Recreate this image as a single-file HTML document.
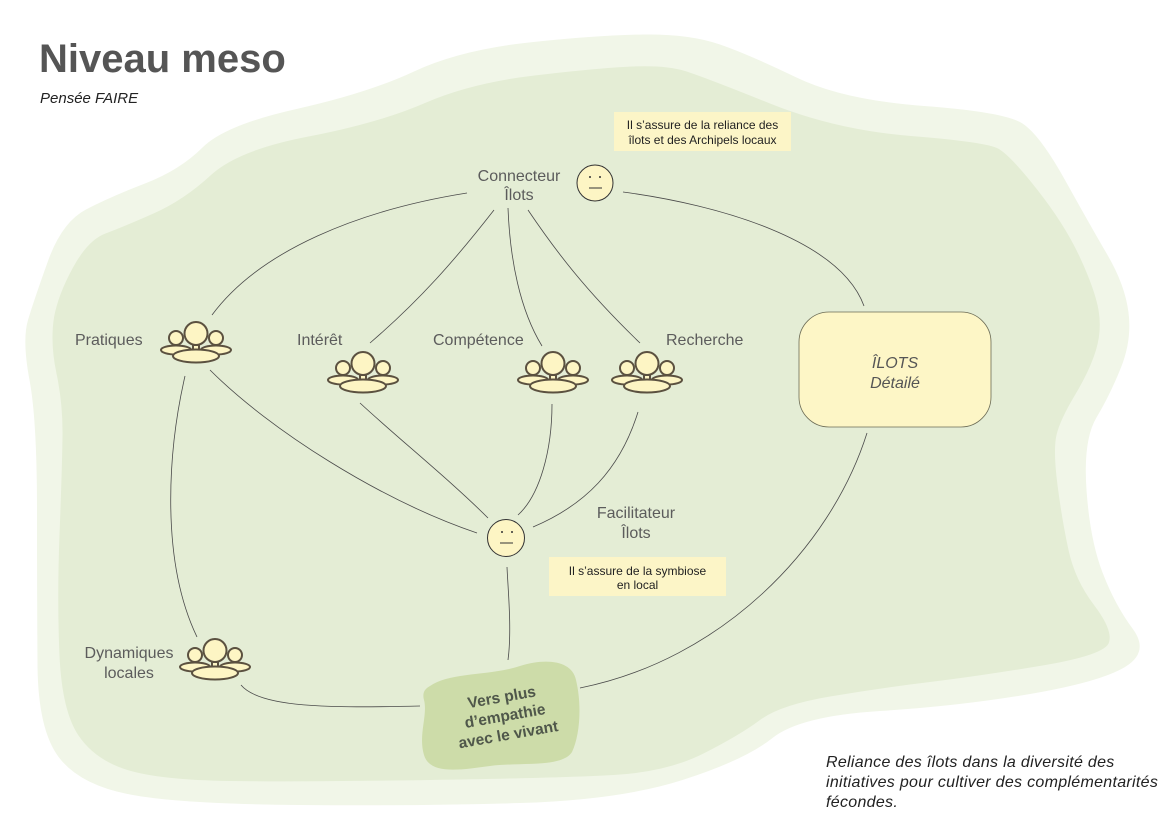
<!DOCTYPE html>
<html>
<head>
<meta charset="utf-8">
<style>
  html,body{margin:0;padding:0;background:#fff;}
  body{width:1169px;height:827px;overflow:hidden;}
  svg{display:block;}
  .lbl{font-family:"Liberation Sans",sans-serif;font-size:16px;fill:#5c5c5c;}
  .note{font-family:"Liberation Sans",sans-serif;font-size:12px;fill:#222;}
  .ln{fill:none;stroke:#4a4a4a;stroke-width:0.8;}
  .pp{fill:#fdf5c4;stroke:#5b5140;stroke-width:2;}
  .face{fill:#fdf5c4;stroke:#333;stroke-width:1;}
</style>
</head>
<body>
<svg width="1169" height="827" viewBox="0 0 1169 827" xmlns="http://www.w3.org/2000/svg">
  <!-- background blobs -->
  <path fill="#f1f6e8" d="M 28,320 Q 34,300 48,261 Q 62,222 86,209.5 Q 110,197 145,183.5 Q 180,170 202.5,147.5 Q 225,125 296.5,109 Q 368,93 414,71.5 Q 460,50 529,42.5 Q 598,35 644,34.5 Q 690,34 720,44.5 Q 750,55 796.5,77.5 Q 843,100 924,106 Q 1005,112 1022.5,123.5 Q 1040,135 1065,180 Q 1090,225 1107.5,255 Q 1125,285 1128.5,312.5 Q 1132,340 1121,367.5 Q 1110,395 1096.5,417.5 Q 1083,440 1086.5,490 Q 1090,540 1102.5,572.5 Q 1115,605 1132.5,628.5 Q 1150,652 1125,667 Q 1100,682 1030,694 Q 960,706 880,711 Q 800,716 772.5,738 Q 745,760 682.5,780 Q 620,800 520,803 Q 420,806 300,805 Q 180,804 130,794.5 Q 80,785 59,757.5 Q 38,730 37.5,665 Q 37,600 37,510 Q 37,420 29.5,380 Q 22,340 28,320 Z"/>
  <path fill="#e4edd5" d="M 54,317.5 Q 58,295 73,267.5 Q 88,240 105.5,233.5 Q 123,227 153.5,213.5 Q 184,200 211,175 Q 238,150 308.5,136.5 Q 379,123 425,103 Q 471,83 534.5,75.5 Q 598,68 632,66.5 Q 666,65 685,71 Q 704,77 770,103.5 Q 836,130 911,136 Q 986,142 998,148.5 Q 1010,155 1037.5,190 Q 1065,225 1080,257.5 Q 1095,290 1098.5,310 Q 1102,330 1096,350 Q 1090,370 1075,395 Q 1060,420 1056.5,435 Q 1053,450 1057.5,485 Q 1062,520 1068.5,550 Q 1075,580 1094,605 Q 1113,630 1109,642.5 Q 1105,655 1042.5,665.5 Q 980,676 930,682 Q 880,688 830,696.5 Q 780,705 760,720 Q 740,735 703.5,753.5 Q 667,772 613.5,775 Q 560,778 430,780 Q 300,782 230,781 Q 160,780 127.5,770 Q 95,760 78.5,735.5 Q 62,711 59.5,655.5 Q 57,600 59.5,535 Q 62,470 62.5,437 Q 63,404 56.5,373.5 Q 50,343 54,317.5 Z"/>

  <!-- Title -->
  <text x="39" y="72" font-family="'Liberation Sans',sans-serif" font-size="40" font-weight="bold" fill="#555555">Niveau meso</text>
  <text x="40" y="103" font-family="'Liberation Sans',sans-serif" font-size="15" font-style="italic" fill="#222">Pensée FAIRE</text>

  <!-- connectors -->
  <path class="ln" d="M 467,193 C 360,210 260,250 212,315"/>
  <path class="ln" d="M 494,210 C 455,260 420,300 370,343"/>
  <path class="ln" d="M 508,208 C 510,260 520,310 542,346"/>
  <path class="ln" d="M 528,210 C 555,250 585,290 640,343"/>
  <path class="ln" d="M 623,192 C 720,205 840,240 864,306"/>
  <path class="ln" d="M 210,370 C 270,430 380,500 477,533"/>
  <path class="ln" d="M 185,376 C 168,450 160,560 197,637"/>
  <path class="ln" d="M 360,403 C 400,440 450,480 488,518"/>
  <path class="ln" d="M 552,404 C 552,450 540,495 518,515"/>
  <path class="ln" d="M 638,412 C 620,470 585,505 533,527"/>
  <path class="ln" d="M 507,567 C 508,590 512,630 508,660"/>
  <path class="ln" d="M 241,685 C 260,708 330,708 420,706"/>
  <path class="ln" d="M 867,433 C 830,550 720,660 580,688"/>

  <!-- Note 1 -->
  <rect x="614" y="112" width="177" height="39" fill="#fcf5c7"/>
  <text class="note" x="702.5" y="129" text-anchor="middle">Il s’assure de la reliance des</text>
  <text class="note" x="702.5" y="144" text-anchor="middle">îlots et des Archipels locaux</text>

  <!-- Note 2 -->
  <rect x="549" y="557" width="177" height="39" fill="#fcf5c7"/>
  <text class="note" x="637.5" y="575" text-anchor="middle">Il s’assure de la symbiose</text>
  <text class="note" x="637.5" y="589" text-anchor="middle">en local</text>

  <!-- Connecteur label + face -->
  <text class="lbl" x="519" y="181" text-anchor="middle">Connecteur</text>
  <text class="lbl" x="519" y="200" text-anchor="middle">Îlots</text>
  <g transform="translate(595,183)">
    <circle class="face" r="18"/>
    <circle cx="-5" cy="-6" r="1" fill="#333"/>
    <circle cx="5" cy="-6" r="1" fill="#333"/>
    <line x1="-6" y1="5" x2="7" y2="5" stroke="#333" stroke-width="1"/>
  </g>

  <!-- Facilitateur label + face -->
  <text class="lbl" x="636" y="518" text-anchor="middle">Facilitateur</text>
  <text class="lbl" x="636" y="538" text-anchor="middle">Îlots</text>
  <g transform="translate(506,538)">
    <circle class="face" r="18.5"/>
    <circle cx="-4" cy="-6" r="1" fill="#333"/>
    <circle cx="6" cy="-6" r="1" fill="#333"/>
    <line x1="-6" y1="5" x2="7" y2="5" stroke="#333" stroke-width="1"/>
  </g>

  <!-- People icons -->
  <g transform="translate(196,343)">
    <ellipse class="pp" cx="-20" cy="7" rx="15" ry="4.5"/>
    <ellipse class="pp" cx="20" cy="7" rx="15" ry="4.5"/>
    <circle class="pp" cx="-20" cy="-5" r="7"/>
    <circle class="pp" cx="20" cy="-5" r="7"/>
    <circle class="pp" cx="0" cy="-9.5" r="11.5"/>
    <rect class="pp" x="-3" y="2" width="6" height="5"/>
    <ellipse class="pp" cx="0" cy="13" rx="23" ry="6.5"/>
  </g>
  <g transform="translate(363,373)">
    <ellipse class="pp" cx="-20" cy="7" rx="15" ry="4.5"/>
    <ellipse class="pp" cx="20" cy="7" rx="15" ry="4.5"/>
    <circle class="pp" cx="-20" cy="-5" r="7"/>
    <circle class="pp" cx="20" cy="-5" r="7"/>
    <circle class="pp" cx="0" cy="-9.5" r="11.5"/>
    <rect class="pp" x="-3" y="2" width="6" height="5"/>
    <ellipse class="pp" cx="0" cy="13" rx="23" ry="6.5"/>
  </g>
  <g transform="translate(553,373)">
    <ellipse class="pp" cx="-20" cy="7" rx="15" ry="4.5"/>
    <ellipse class="pp" cx="20" cy="7" rx="15" ry="4.5"/>
    <circle class="pp" cx="-20" cy="-5" r="7"/>
    <circle class="pp" cx="20" cy="-5" r="7"/>
    <circle class="pp" cx="0" cy="-9.5" r="11.5"/>
    <rect class="pp" x="-3" y="2" width="6" height="5"/>
    <ellipse class="pp" cx="0" cy="13" rx="23" ry="6.5"/>
  </g>
  <g transform="translate(647,373)">
    <ellipse class="pp" cx="-20" cy="7" rx="15" ry="4.5"/>
    <ellipse class="pp" cx="20" cy="7" rx="15" ry="4.5"/>
    <circle class="pp" cx="-20" cy="-5" r="7"/>
    <circle class="pp" cx="20" cy="-5" r="7"/>
    <circle class="pp" cx="0" cy="-9.5" r="11.5"/>
    <rect class="pp" x="-3" y="2" width="6" height="5"/>
    <ellipse class="pp" cx="0" cy="13" rx="23" ry="6.5"/>
  </g>
  <g transform="translate(215,660)">
    <ellipse class="pp" cx="-20" cy="7" rx="15" ry="4.5"/>
    <ellipse class="pp" cx="20" cy="7" rx="15" ry="4.5"/>
    <circle class="pp" cx="-20" cy="-5" r="7"/>
    <circle class="pp" cx="20" cy="-5" r="7"/>
    <circle class="pp" cx="0" cy="-9.5" r="11.5"/>
    <rect class="pp" x="-3" y="2" width="6" height="5"/>
    <ellipse class="pp" cx="0" cy="13" rx="23" ry="6.5"/>
  </g>

  <!-- labels -->
  <text class="lbl" x="75" y="345">Pratiques</text>
  <text class="lbl" x="297" y="345">Intérêt</text>
  <text class="lbl" x="433" y="345">Compétence</text>
  <text class="lbl" x="666" y="345">Recherche</text>
  <text class="lbl" x="129" y="658" text-anchor="middle">Dynamiques</text>
  <text class="lbl" x="129" y="678" text-anchor="middle">locales</text>

  <!-- ILOTS box -->
  <rect x="799" y="312" width="192" height="115" rx="30" ry="30" fill="#fdf6c6" stroke="#6b6b55" stroke-width="0.8"/>
  <text x="895" y="368" text-anchor="middle" font-family="'Liberation Sans',sans-serif" font-size="16" font-style="italic" fill="#555">ÎLOTS</text>
  <text x="895" y="388" text-anchor="middle" font-family="'Liberation Sans',sans-serif" font-size="16" font-style="italic" fill="#555">Détailé</text>

  <!-- Vers plus blob -->
  <path fill="#cddca9" d="M 430,686 C 450,672 490,676 520,666 C 545,658 572,660 576,680 C 582,705 580,735 572,752 C 562,768 520,762 490,766 C 460,770 430,775 424,755 C 418,735 428,715 424,700 C 422,692 425,689 430,686 Z"/>
  <g transform="translate(505,716) rotate(-10)" font-family="'Liberation Sans',sans-serif" font-size="15.5" font-weight="bold" fill="#4f574a" text-anchor="middle">
    <text x="0" y="-14">Vers plus</text>
    <text x="0" y="5">d’empathie</text>
    <text x="0" y="24">avec le vivant</text>
  </g>

  <!-- bottom-right text -->
  <g font-family="'Liberation Sans',sans-serif" font-size="16" font-style="italic" fill="#222" letter-spacing="0.3">
    <text x="826" y="767">Reliance des îlots dans la diversité des</text>
    <text x="826" y="787">initiatives pour cultiver des complémentarités</text>
    <text x="826" y="807">fécondes.</text>
  </g>
</svg>
</body>
</html>
